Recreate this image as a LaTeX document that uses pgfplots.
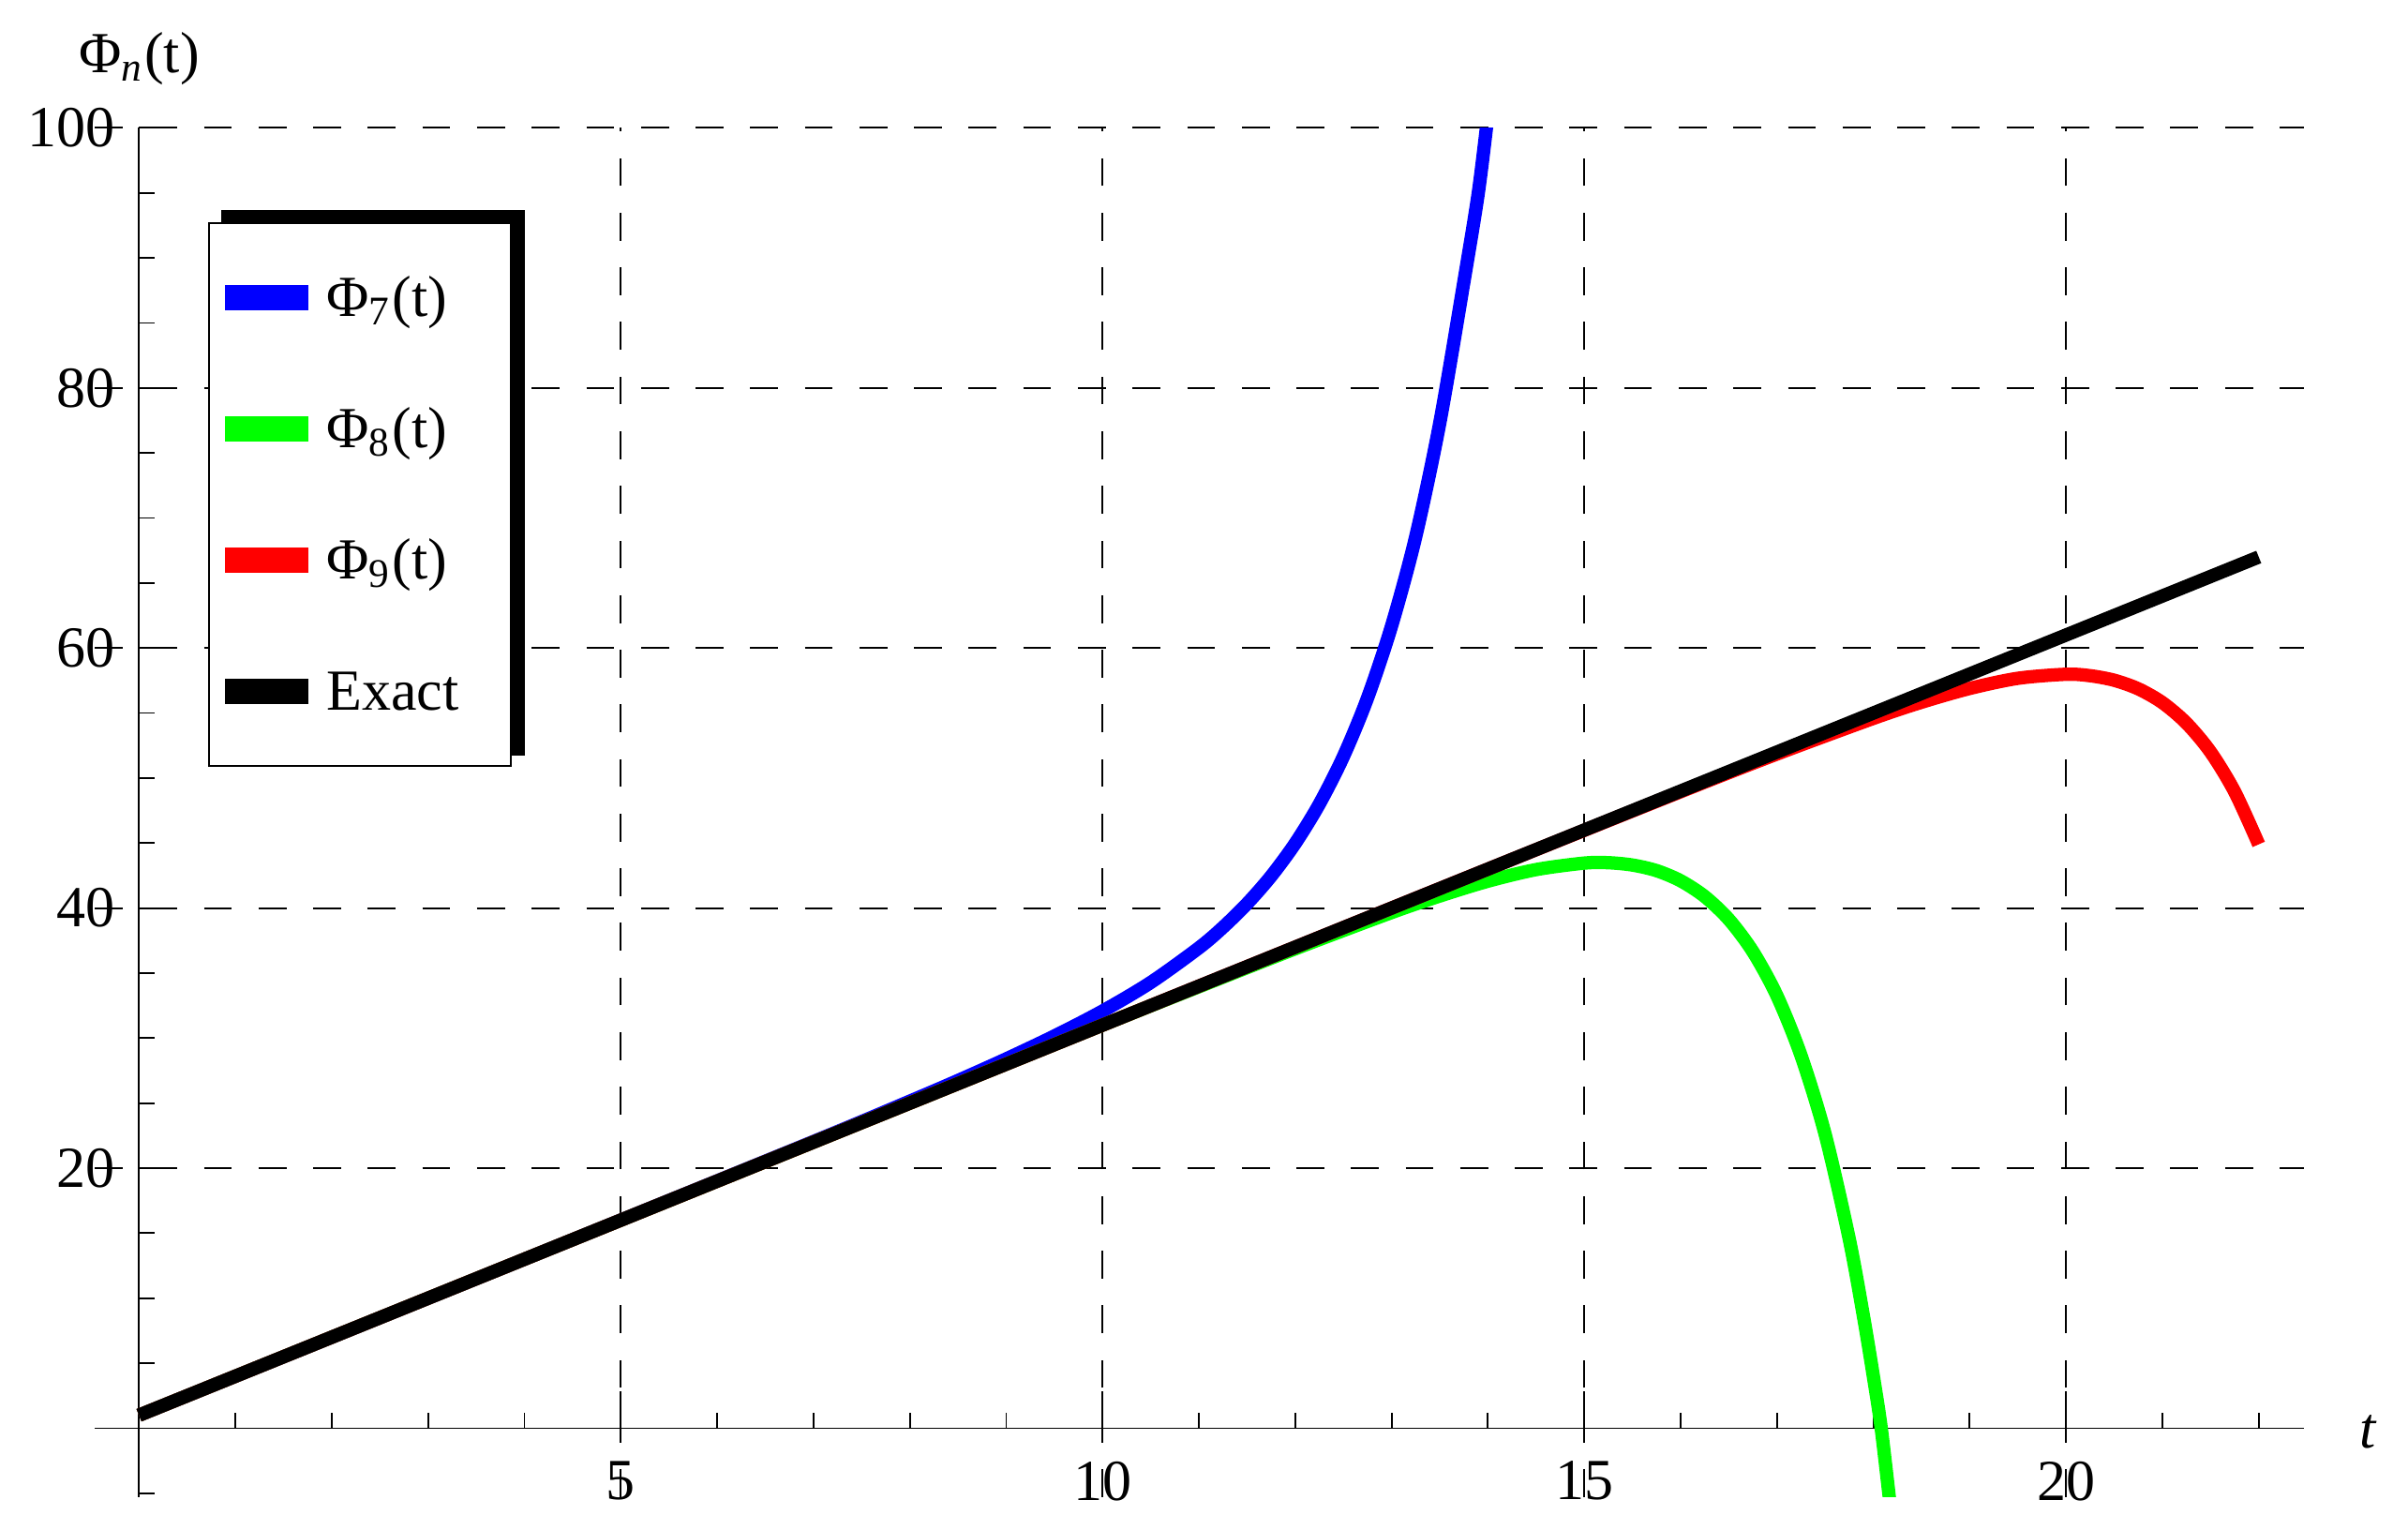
\documentclass[border=0pt]{standalone}
\usepackage{fontspec}
\setmainfont{Liberation Serif}
\usepackage{pgfplots}
\pgfplotsset{compat=1.18}

\begin{document}
\begin{tikzpicture}
  % page size fixed to the reference proportions (1pt = 6.2px)
  \useasboundingbox (0,0) rectangle (414.4pt,263.2pt);
  \begin{axis}[
      at={(16.3pt,5.6pt)}, anchor=south west,
      scale only axis, width=380.2pt, height=235.6pt,
      xmin=-0.46, xmax=22.47, ymin=-5.3, ymax=100,
      axis lines=middle,
      axis line style={-, line width=0.3pt},
      xlabel={\textit{t}},
      ylabel={Φ\textsubscript{\textit{n}}(t)},
      xlabel style={anchor=west, xshift=6pt, yshift=-0.6pt},
      ylabel style={anchor=south, yshift=3.9pt},
      label style={font=\fontsize{10}{12}\selectfont},
      xtick={5,10,15,20},
      minor xtick={1,...,22},
      ytick={20,40,60,80,100},
      minor ytick={-5,0,...,95},
      tick align=inside,
      major tick length=6.3pt,
      minor tick length=2.7pt,
      tick style={line width=0.3pt, black},
      grid=major,
      major grid style={line width=0.3pt, black, dash pattern=on 4.8pt off 4.6pt},
      ticklabel style={font=\fontsize{10}{12}\selectfont},
      /pgf/number format/assume math mode=true,
      xticklabel style={yshift=-2.2pt},
      yticklabel style={xshift=-0.7pt},
      legend style={at={(0.0515,0.9311)}, anchor=north west,
        draw=black, line width=0.3pt, fill=white,
        inner xsep=2.7pt, inner ysep=9.0pt,
        row sep=14.96pt, column sep=3.2pt,
        nodes={inner sep=0pt, text height=7pt, text depth=0.64pt,
          font=\fontsize{10}{12}\selectfont}},
      legend cell align=left,
      legend image code/.code={
        \draw[#1, line width=2.5pt, overlay] (0pt,0pt) -- (12pt,0pt);
        \path (0pt,-1pt) rectangle (12pt,1pt);},
    ]

    % black band behind the legend box (its offset shadow)
    \fill[black] (axis cs:0.855,51.69) rectangle (axis cs:4.002,93.69);

    % Phi_7 (blue), leaves the top of the frame near t = 14
    \addplot[blue, line width=2.3pt, smooth] coordinates {
        (0,1) (4,13) (7,22.05) (8,25.15) (8.5,26.74) (9,28.4) (9.5,30.16)
        (10,32.08) (10.5,34.28) (11,36.94) (11.25,38.52) (11.5,40.34)
        (11.75,42.46) (12,44.98) (12.25,48.0) (12.5,51.66) (12.75,56.15)
        (13,61.7) (13.25,68.55) (13.5,77.3) (13.75,88.15) (13.9,95.0)
        (14,101.0)
      };
    \addlegendentry{\makebox[29pt][l]{Φ\textsubscript{7}(t)}}

    % Phi_8 (green)
    \addplot[green, line width=2.3pt, smooth] coordinates {
        (0,1) (4,13) (8,25) (10,31) (11,33.95) (12,36.87) (13,39.66)
        (13.5,40.93) (14,42.07) (14.5,42.96) (15,43.46) (15.25,43.49)
        (15.5,43.31) (15.75,42.88) (16,42.1) (16.25,40.89) (16.5,39.13)
        (16.75,36.65) (17,33.25) (17.25,28.65) (17.5,22.6) (17.75,14.55)
        (17.9,8.5) (18,4.0) (18.08,0.1) (18.17,-5.6)
      };
    \addlegendentry{\makebox[29pt][l]{Φ\textsubscript{8}(t)}}

    % Phi_9 (red)
    \addplot[red, line width=2.3pt, smooth] coordinates {
        (0,1) (4,13) (8,25) (12,37) (14,43) (16,48.95) (17,51.85)
        (18,54.59) (18.5,55.83) (19,56.89) (19.5,57.67) (20,57.98)
        (20.25,57.87) (20.5,57.52) (20.75,56.86) (21,55.8) (21.25,54.22)
        (21.5,52.0) (21.75,48.95) (22,44.9)
      };
    \addlegendentry{\makebox[29pt][l]{Φ\textsubscript{9}(t)}}

    % exact solution
    \addplot[black, line width=2.3pt] coordinates {(0,1) (22,67)};
    \addlegendentry{\makebox[29pt][l]{Exact}}

  \end{axis}
\end{tikzpicture}
\end{document}
